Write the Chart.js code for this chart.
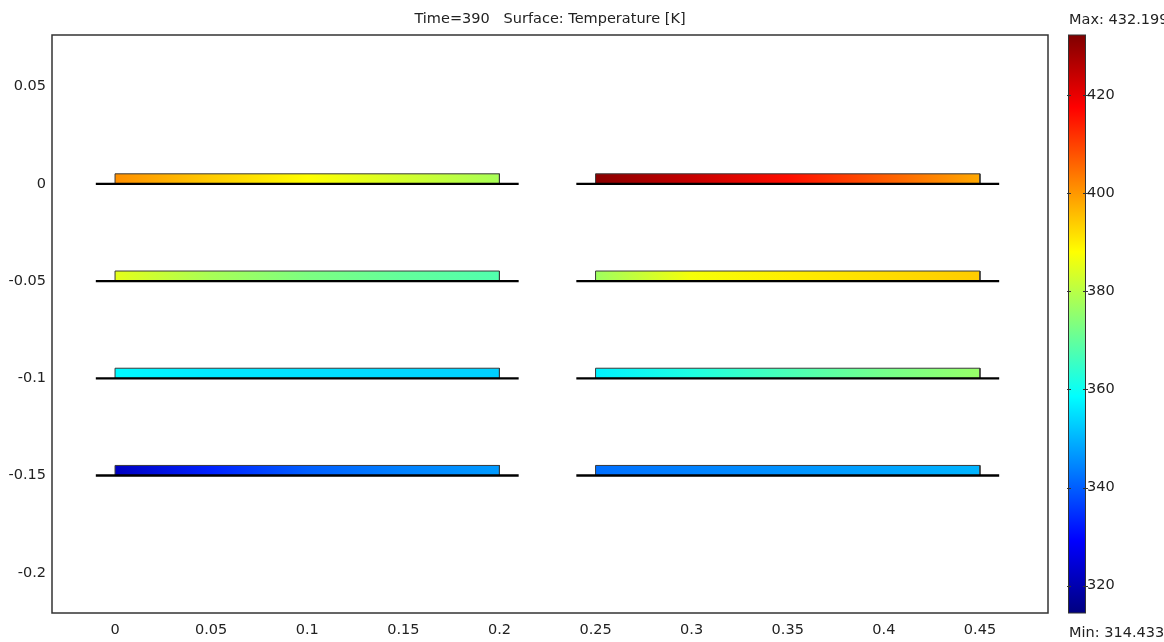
<!DOCTYPE html>
<html lang="en">
<head>
    <meta charset="UTF-8">
    <title>Surface temperature</title>
    <script src="https://cdn.jsdelivr.net/npm/chart.js"></script>
    <style>
        body { margin: 0; background: #fff; }
        #wrap { width: 1164px; height: 642px; }
    </style>
</head>
<body>
    <div id="wrap"><canvas id="myChart"></canvas></div>
    <script>
        // rows of plates (y of the base line) and where along x the temperature was read
        const rows = [0, -0.05, -0.1, -0.15];
        const leftX = [0, 0.05, 0.1, 0.15, 0.2];
        const rightX = [0.25, 0.3, 0.35, 0.4, 0.45];
        // temperatures [K], one list per row
        const leftTemps = [
            [401, 394, 388, 383, 378],
            [385, 378, 373, 370, 368],
            [358, 356, 355, 354, 353],
            [322, 333, 340, 344, 347]
        ];
        const rightTemps = [
            [431, 424, 416, 407, 398],
            [377, 387, 390, 392, 394],
            [357, 362, 367, 372, 376],
            [342, 344, 346, 348, 350]
        ];
        const plateThickness = 0.0052;
        const leftBase = [-0.01, 0.21];
        const rightBase = [0.24, 0.46];

        const xTicks = [0, 0.05, 0.1, 0.15, 0.2, 0.25, 0.3, 0.35, 0.4, 0.45];
        const xLabels = ['0', '0.05', '0.1', '0.15', '0.2', '0.25', '0.3', '0.35', '0.4', '0.45'];
        const yTicks = [0.05, 0, -0.05, -0.1, -0.15, -0.2];
        const yLabels = ['0.05', '0', '-0.05', '-0.1', '-0.15', '-0.2'];
        const tempTicks = [320, 340, 360, 380, 400, 420];
        const tempMin = 314.433;
        const tempMax = 432.199;
        const titleText = 'Time=390   Surface: Temperature [K]';

        const FONT = { family: 'DejaVu Sans', size: 14.5 };
        const TXT = '#222';

        // jet colour map
        function jet(temp) {
            let t = (temp - tempMin) / (tempMax - tempMin);
            t = Math.max(0, Math.min(1, t));
            const c = v => Math.round(255 * Math.max(0, Math.min(1, v)));
            return 'rgb(' + c(1.5 - Math.abs(4 * t - 3)) + ',' + c(1.5 - Math.abs(4 * t - 2)) + ',' + c(1.5 - Math.abs(4 * t - 1)) + ')';
        }

        function plateFill(xs, temps) {
            return function (context) {
                const chart = context.chart;
                if (!chart.chartArea) return jet(temps[0]);
                const sx = chart.scales.x;
                const x0 = sx.getPixelForValue(xs[0]);
                const x1 = sx.getPixelForValue(xs[xs.length - 1]);
                const g = chart.ctx.createLinearGradient(x0, 0, x1, 0);
                xs.forEach((x, i) => {
                    g.addColorStop((x - xs[0]) / (xs[xs.length - 1] - xs[0]), jet(temps[i]));
                });
                return g;
            };
        }

        function plateDataset(xs, temps, y) {
            const a = xs[0], b = xs[xs.length - 1], top = y + plateThickness;
            return {
                data: [{ x: a, y: y }, { x: a, y: top }, { x: b, y: top }, { x: b, y: y }, { x: a, y: y }],
                showLine: true,
                fill: 'shape',
                backgroundColor: plateFill(xs, temps),
                borderColor: '#3a3a3a',
                borderWidth: 1,
                pointRadius: 0,
                order: 2
            };
        }

        function baseDataset(ends, y) {
            return {
                data: [{ x: ends[0], y: y }, { x: ends[1], y: y }],
                showLine: true,
                fill: false,
                borderColor: '#000',
                borderWidth: 2.4,
                pointRadius: 0,
                order: 1
            };
        }

        const datasets = [];
        rows.forEach((y, i) => {
            datasets.push(plateDataset(leftX, leftTemps[i], y));
            datasets.push(plateDataset(rightX, rightTemps[i], y));
            datasets.push(baseDataset(leftBase, y));
            datasets.push(baseDataset(rightBase, y));
        });

        // frame round the plot and the colour bar
        const decorations = {
            id: 'decorations',
            afterDatasetsDraw(chart) {
                const { ctx, chartArea } = chart;
                ctx.save();
                ctx.strokeStyle = '#333';
                ctx.lineWidth = 1.5;
                ctx.strokeRect(chartArea.left, chartArea.top, chartArea.right - chartArea.left, chartArea.bottom - chartArea.top);
                ctx.restore();
            },
            afterDraw(chart) {
                const { ctx, chartArea } = chart;
                const ts = chart.scales.temp;
                const yTop = ts.getPixelForValue(tempMax);
                const yBot = ts.getPixelForValue(tempMin);
                const x0 = chartArea.right + 20, w = 18;
                ctx.save();
                const g = ctx.createLinearGradient(0, yBot, 0, yTop);
                for (let i = 0; i <= 40; i++) {
                    g.addColorStop(i / 40, jet(tempMin + (tempMax - tempMin) * i / 40));
                }
                ctx.fillStyle = g;
                ctx.fillRect(x0, yTop, w, yBot - yTop);
                ctx.strokeStyle = '#333';
                ctx.lineWidth = 1;
                ctx.strokeRect(x0 + 0.5, yTop, w - 1, yBot - yTop);
                tempTicks.forEach(v => {
                    const py = Math.round(ts.getPixelForValue(v)) + 0.5;
                    ctx.beginPath();
                    ctx.moveTo(x0 - 1, py); ctx.lineTo(x0 + 3, py);
                    ctx.moveTo(x0 + w - 3, py); ctx.lineTo(x0 + w + 2, py);
                    ctx.stroke();
                });
                ctx.fillStyle = TXT;
                ctx.font = FONT.size + 'px ' + FONT.family;
                ctx.textAlign = 'left';
                ctx.textBaseline = 'middle';
                ctx.fillText('Max: ' + tempMax, x0 + 1, 20);
                ctx.fillText('Min: ' + tempMin, x0 + 1, 633);
                ctx.restore();
            }
        };

        const ctx = document.getElementById('myChart').getContext('2d');
        new Chart(ctx, {
            type: 'scatter',
            data: { datasets: datasets },
            options: {
                responsive: true,
                maintainAspectRatio: false,
                animation: false,
                layout: { padding: 0 },
                plugins: {
                    legend: { display: false },
                    tooltip: { enabled: false },
                    title: { display: false }
                },
                scales: {
                    x: {
                        type: 'linear',
                        position: 'bottom',
                        min: -0.0328,
                        max: 0.4854,
                        grid: { display: false, drawTicks: false },
                        border: { display: false },
                        afterBuildTicks: s => { s.ticks = xTicks.map(v => ({ value: v })); },
                        afterFit: s => { s.height = 29; },
                        ticks: {
                            autoSkip: false,
                            maxRotation: 0,
                            padding: 9,
                            color: TXT,
                            font: FONT,
                            callback: (v, i) => xLabels[i]
                        }
                    },
                    xTop: {
                        type: 'linear',
                        position: 'top',
                        min: -0.0328,
                        max: 0.4854,
                        grid: { display: false, drawTicks: false },
                        border: { display: false },
                        ticks: { display: false },
                        afterFit: s => { s.height = 35; },
                        title: {
                            display: true,
                            text: titleText,
                            color: TXT,
                            font: FONT,
                            padding: { top: 11, bottom: 0 }
                        }
                    },
                    y: {
                        type: 'linear',
                        position: 'left',
                        min: -0.2207,
                        max: 0.0766,
                        grid: { display: false, drawTicks: false },
                        border: { display: false },
                        afterBuildTicks: s => { s.ticks = yTicks.map(v => ({ value: v })); },
                        afterFit: s => { s.width = 52; },
                        ticks: {
                            autoSkip: false,
                            padding: 6,
                            color: TXT,
                            font: FONT,
                            callback: (v, i) => yLabels[i]
                        }
                    },
                    temp: {
                        type: 'linear',
                        position: 'right',
                        min: tempMin,
                        max: tempMax,
                        // invisible tick marks push the labels past the colour bar
                        grid: { display: true, drawOnChartArea: false, drawTicks: true, tickLength: 39, color: 'rgba(0,0,0,0)' },
                        border: { display: false },
                        afterBuildTicks: s => { s.ticks = tempTicks.map(v => ({ value: v })); },
                        afterFit: s => { s.width = 116; },
                        ticks: {
                            autoSkip: false,
                            padding: 0,
                            color: TXT,
                            font: FONT,
                            callback: v => String(v)
                        }
                    }
                }
            },
            plugins: [decorations]
        });
    </script>
</body>
</html>
